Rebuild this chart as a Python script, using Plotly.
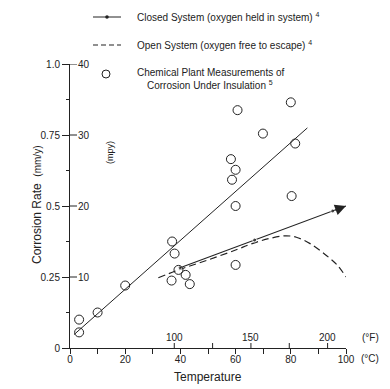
import plotly.graph_objects as go

# ---------------- data (temperature in °C, corrosion rate in mpy) ----------------
plant_temp = [3.3, 3.3, 10, 20, 37, 37.9, 39.3, 36.8, 41.9, 43.4, 60,
              58.3, 60, 58.7, 60, 60.7, 69.9, 80, 81.6, 80.3]
plant_rate = [4.0, 2.2, 5.0, 8.8, 15.0, 13.3, 11.0, 9.5, 10.3, 9.0, 11.7,
              26.6, 25.1, 23.7, 20.0, 33.5, 30.2, 34.6, 28.8, 21.4]

fit_temp = [1.5, 86]
fit_rate = [1.9, 31.0]

closed_temp = [39.9, 66.9, 95.2, 100]
closed_rate = [11.3, 15.2, 19.3, 20.0]

open_temp = [32, 40, 50, 60, 66, 72, 78, 82, 87, 93, 97, 100]
open_rate = [9.9, 11.1, 12.4, 13.8, 14.7, 15.4, 15.8, 15.6, 14.7, 13.0, 11.6, 10.0]

mpy_ticks = [10, 20, 30, 40]
mpy_labels = ["10", "20", "30", "40"]
mmy_ticks = [0, 10, 20, 30, 40]
mmy_labels = ["0", "0.25", "0.5", "0.75", "1.0"]
c_ticks = [0, 10, 20, 30, 40, 50, 60, 70, 80, 90, 100]
c_labels = ["0", "", "20", "", "40", "", "60", "", "80", "", "100"]
f_ticks = [100, 125, 150, 175, 200]
f_labels = ["100", "", "150", "", "200"]

# ---------------- layout geometry ----------------
W, H = 390, 389
L, R, T, B = 70, 44, 64, 41
PW, PH = W - L - R, H - T - B


def px(x):
    return (x - L) / PW


def py(y):
    return (H - B - y) / PH


def f_to_c(f):
    return (f - 32) * 5 / 9


FONT = "Liberation Sans, Arial, Helvetica, sans-serif"
INK = "#222222"
tickfont = dict(size=10, color=INK, family=FONT)
DASH = "7px,4px"

fig = go.Figure()

fig.add_trace(go.Scatter(x=fit_temp, y=fit_rate, mode="lines",
                         line=dict(color=INK, width=1), showlegend=False, hoverinfo="skip"))
fig.add_trace(go.Scatter(x=open_temp, y=open_rate, mode="lines",
                         line=dict(color=INK, width=1.2, dash=DASH, shape="spline"),
                         showlegend=False))
fig.add_trace(go.Scatter(x=closed_temp, y=closed_rate, mode="lines+markers",
                         line=dict(color=INK, width=1.1),
                         marker=dict(size=[4, 4, 4, 0], color=INK),
                         showlegend=False))
fig.add_trace(go.Scatter(x=plant_temp, y=plant_rate, mode="markers",
                         marker=dict(symbol="circle-open", size=9, color=INK, line=dict(width=1)),
                         showlegend=False))

# arrow head on closed system line
fig.add_annotation(x=closed_temp[-1], y=closed_rate[-1], ax=closed_temp[-2], ay=closed_rate[-2],
                   xref="x", yref="y", axref="x", ayref="y", text="", showarrow=True,
                   arrowhead=2, arrowsize=2.2, arrowwidth=1, arrowcolor=INK, standoff=0)

# ---------------- secondary scales: °F on x axis, mpy on y axis ----------------
for f, lab in zip(f_ticks, f_labels):
    c = f_to_c(f)
    fig.add_shape(type="line", xref="x", yref="y", ysizemode="pixel", yanchor=0,
                  x0=c, x1=c, y0=0, y1=5, line=dict(color=INK, width=1))
    if lab:
        fig.add_annotation(x=c, y=0, xref="x", yref="y", text=lab, showarrow=False,
                           xanchor="center", yanchor="middle", yshift=11, font=tickfont)
for v, lab in zip(mpy_ticks, mpy_labels):
    fig.add_shape(type="line", xref="x", yref="y", xsizemode="pixel", xanchor=0,
                  x0=0, x1=7, y0=v, y1=v, line=dict(color=INK, width=1))
    fig.add_annotation(x=0, y=v, xref="x", yref="y", text=lab, showarrow=False,
                       xanchor="left", yanchor="middle", xshift=6, font=tickfont)

# ---------------- manual legend ----------------
fig.add_shape(type="line", xref="paper", yref="paper", x0=px(93), x1=px(121), y0=py(17), y1=py(17),
              line=dict(color=INK, width=1))
fig.add_shape(type="circle", xref="paper", yref="paper", xsizemode="pixel", ysizemode="pixel",
              xanchor=px(107), yanchor=py(17), x0=-1.8, x1=1.8, y0=-1.8, y1=1.8,
              fillcolor=INK, line=dict(color=INK, width=0))
fig.add_shape(type="line", xref="paper", yref="paper", x0=px(93), x1=px(121), y0=py(45), y1=py(45),
              line=dict(color=INK, width=1.2, dash="5px,3px"))
fig.add_shape(type="circle", xref="paper", yref="paper", xsizemode="pixel", ysizemode="pixel",
              xanchor=px(106), yanchor=py(74), x0=-4, x1=4, y0=-4, y1=4,
              line=dict(color=INK, width=1))

legend_texts = [
    (135, 17, "Closed System (oxygen held in system) <sup>4</sup>"),
    (135, 45, "Open System (oxygen free to escape) <sup>4</sup>"),
    (135, 73, "Chemical Plant Measurements of"),
    (145, 85, "Corrosion Under Insulation <sup>5</sup>"),
]
for x, y, t in legend_texts:
    fig.add_annotation(x=px(x), y=py(y), xref="paper", yref="paper", text=t, showarrow=False,
                       xanchor="left", yanchor="middle", font=dict(size=10, color=INK, family=FONT))

# axis titles / unit labels
fig.add_annotation(x=px(37), y=py(205), xref="paper", yref="paper",
                   text="Corrosion Rate  <span style='font-size:10px'>(mm/y)</span>",
                   textangle=-90, showarrow=False, xanchor="center", yanchor="middle",
                   font=dict(size=12, color=INK, family=FONT))
fig.add_annotation(x=px(110), y=py(153), xref="paper", yref="paper", text="(mpy)",
                   textangle=-90, showarrow=False, xanchor="center", yanchor="middle",
                   font=dict(size=9, color=INK, family=FONT))
fig.add_annotation(x=px(208), y=py(377), xref="paper", yref="paper", text="Temperature",
                   showarrow=False, xanchor="center", yanchor="middle",
                   font=dict(size=12, color=INK, family=FONT))
fig.add_annotation(x=px(359), y=py(358), xref="paper", yref="paper", text="(°C)",
                   xanchor="left", yanchor="middle", showarrow=False, font=tickfont)
fig.add_annotation(x=px(360), y=py(337), xref="paper", yref="paper", text="(°F)",
                   xanchor="left", yanchor="middle", showarrow=False, font=tickfont)

fig.update_layout(
    width=W, height=H,
    margin=dict(l=L, r=R, t=T, b=B, pad=0, autoexpand=False),
    paper_bgcolor="white", plot_bgcolor="white",
    showlegend=False,
    xaxis=dict(range=[0, 100], tickvals=c_ticks, ticktext=c_labels, ticks="outside",
               ticklen=5, tickwidth=1, tickcolor=INK, showline=True, linecolor=INK, linewidth=1,
               showgrid=False, zeroline=False, tickfont=tickfont, fixedrange=True,
               automargin=False, ticklabelstandoff=-3),
    yaxis=dict(range=[0, 40], tickvals=mmy_ticks, ticktext=mmy_labels, ticks="outside",
               ticklen=7, tickwidth=1, tickcolor=INK, showline=True, linecolor=INK, linewidth=1,
               showgrid=False, zeroline=False, tickfont=tickfont, fixedrange=True,
               automargin=False,
               minor=dict(dtick=5, ticks="outside", ticklen=3, tickcolor=INK)),
)

fig.write_html("out.html", config={"displayModeBar": False},
               post_script="document.body.style.margin='0';document.body.style.overflow='hidden';")
